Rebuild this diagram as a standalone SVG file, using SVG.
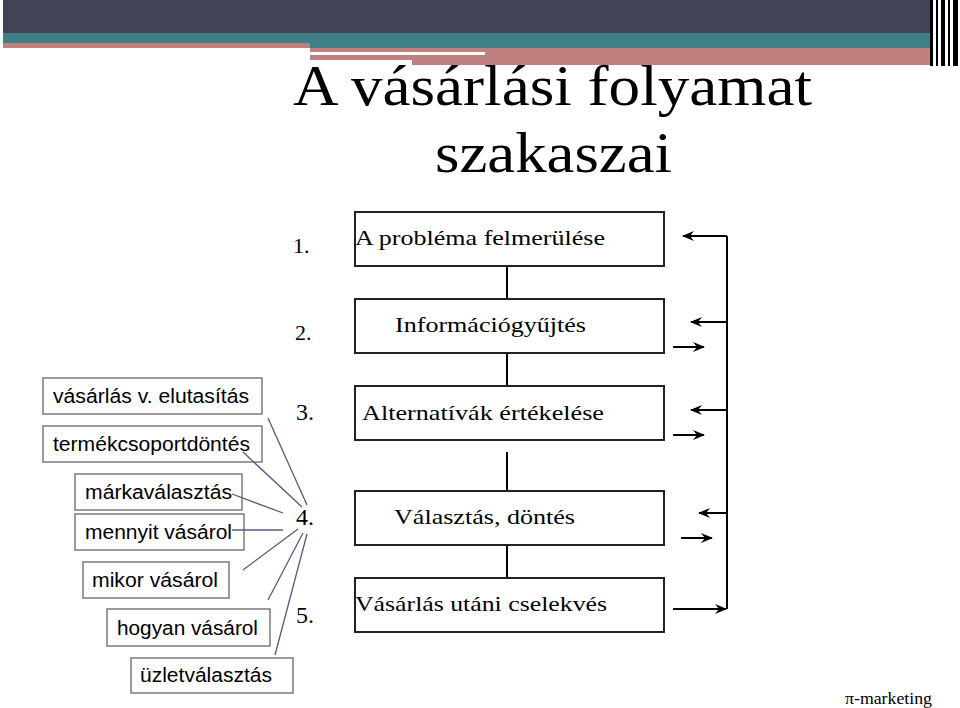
<svg xmlns="http://www.w3.org/2000/svg" width="960" height="708" viewBox="0 0 960 708">
<style>
.s{font-family:"Liberation Serif",serif;fill:#000}
.a{font-family:"Liberation Sans",sans-serif;font-size:20px;fill:#000}
.mb{fill:#fff;stroke:#222;stroke-width:2}
.lb{fill:none;stroke:#666;stroke-width:1.3}
.ln{stroke:#555a7a;stroke-width:1.3;fill:none}
.ar{stroke:#000;stroke-width:2;fill:none}
</style>
<defs><marker id="h" markerWidth="12" markerHeight="10" refX="11" refY="5" orient="auto" markerUnits="userSpaceOnUse"><path d="M0,0 L12,5 L0,10 L4,5 Z" fill="#000"/></marker></defs>
<rect width="960" height="708" fill="#fff"/>
<g id="banner">
<rect x="3" y="0" width="927" height="33" fill="#414456"/>
<rect x="3" y="33" width="927" height="10" fill="#3f7f86"/>
<rect x="3" y="43" width="307" height="5" fill="#c08080"/>
<rect x="310" y="43" width="620" height="5" fill="#3f7f86"/>
<rect x="310" y="48" width="620" height="12" fill="#c08080"/>
<rect x="310" y="52" width="175" height="3" fill="#fff"/>
<rect x="412" y="60" width="518" height="5" fill="#c08080"/>
<rect x="930" y="0" width="30" height="66" fill="#fff"/>
<rect x="930" y="0" width="3" height="66" fill="#000"/>
<rect x="936" y="0" width="2" height="66" fill="#000"/>
<rect x="941" y="0" width="4" height="66" fill="#000"/>
<rect x="948" y="0" width="2" height="66" fill="#000"/>
<rect x="953" y="0" width="5" height="66" fill="#000"/>
</g>
<g id="title">
<text class="s" x="293" y="105" font-size="58" textLength="519" lengthAdjust="spacingAndGlyphs">A vásárlási folyamat</text>
<text class="s" x="435" y="172" font-size="58" textLength="237" lengthAdjust="spacingAndGlyphs">szakaszai</text>
</g>
<g id="connectors">
<line class="ar" x1="507" y1="266" x2="507" y2="299"/>
<line class="ar" x1="507" y1="353" x2="507" y2="386"/>
<line class="ar" x1="507" y1="452" x2="507" y2="491"/>
<line class="ar" x1="507" y1="545" x2="507" y2="578"/>
<line class="ar" x1="727" y1="236" x2="727" y2="609"/>
<line class="ar" x1="727" y1="236" x2="683" y2="236" marker-end="url(#h)"/>
<line class="ar" x1="727" y1="322" x2="691" y2="322" marker-end="url(#h)"/>
<line class="ar" x1="727" y1="410" x2="691" y2="410" marker-end="url(#h)"/>
<line class="ar" x1="727" y1="513" x2="699" y2="513" marker-end="url(#h)"/>
<line class="ar" x1="673" y1="347" x2="704" y2="347" marker-end="url(#h)"/>
<line class="ar" x1="673" y1="435" x2="704" y2="435" marker-end="url(#h)"/>
<line class="ar" x1="681" y1="538" x2="712" y2="538" marker-end="url(#h)"/>
<line class="ar" x1="673" y1="609" x2="726" y2="609" marker-end="url(#h)"/>
</g>
<g id="n1"><rect class="mb" x="355" y="212" width="309" height="54"/><text class="s" x="293" y="253" font-size="22">1.</text><text class="s" x="355" y="245" font-size="22" textLength="250" lengthAdjust="spacingAndGlyphs">A probléma felmerülése</text></g>
<g id="n2"><rect class="mb" x="355" y="299" width="309" height="54"/><text class="s" x="295" y="340" font-size="22">2.</text><text class="s" x="395" y="332" font-size="22" textLength="191" lengthAdjust="spacingAndGlyphs">Információgyűjtés</text></g>
<g id="n3"><rect class="mb" x="355" y="386" width="309" height="54"/><text class="s" x="296" y="420" font-size="24">3.</text><text class="s" x="362" y="420" font-size="22" textLength="242" lengthAdjust="spacingAndGlyphs">Alternatívák értékelése</text></g>
<g id="n4"><rect class="mb" x="355" y="491" width="309" height="54"/><text class="s" x="296" y="525" font-size="24">4.</text><text class="s" x="394" y="524" font-size="22" textLength="181" lengthAdjust="spacingAndGlyphs">Választás, döntés</text></g>
<g id="n5"><rect class="mb" x="355" y="578" width="309" height="54"/><text class="s" x="296" y="623" font-size="24">5.</text><text class="s" x="355" y="611" font-size="22" textLength="252" lengthAdjust="spacingAndGlyphs">Vásárlás utáni cselekvés</text></g>
<g id="side-lines">
<line class="ln" x1="268" y1="418" x2="307" y2="505"/>
<line class="ln" x1="243" y1="452" x2="302" y2="507"/>
<line class="ln" x1="232" y1="494" x2="283" y2="513"/>
<line class="ln" x1="232" y1="530" x2="283" y2="530"/>
<line class="ln" x1="243" y1="570" x2="298" y2="529"/>
<line class="ln" x1="268" y1="600" x2="303" y2="533"/>
<line class="ln" x1="275" y1="655" x2="307" y2="534"/>
</g>
<g id="b1"><rect class="lb" x="43" y="378" width="219" height="36"/><text class="a" x="53" y="403" textLength="196" lengthAdjust="spacingAndGlyphs">vásárlás v. elutasítás</text></g>
<g id="b2"><rect class="lb" x="43" y="426" width="219" height="36"/><text class="a" x="53" y="451" textLength="197" lengthAdjust="spacingAndGlyphs">termékcsoportdöntés</text></g>
<g id="b3"><rect class="lb" x="75" y="474" width="167" height="36"/><text class="a" x="85" y="499" textLength="147" lengthAdjust="spacingAndGlyphs">márkaválasztás</text></g>
<g id="b4"><rect class="lb" x="75" y="514" width="169" height="36"/><text class="a" x="85" y="539" textLength="147" lengthAdjust="spacingAndGlyphs">mennyit vásárol</text></g>
<g id="b5"><rect class="lb" x="83" y="562" width="146" height="36"/><text class="a" x="92" y="587" textLength="126" lengthAdjust="spacingAndGlyphs">mikor vásárol</text></g>
<g id="b6"><rect class="lb" x="107" y="609" width="163" height="37"/><text class="a" x="117" y="635" textLength="141" lengthAdjust="spacingAndGlyphs">hogyan vásárol</text></g>
<g id="b7"><rect class="lb" x="131" y="658" width="162" height="35"/><text class="a" x="140" y="682" textLength="132" lengthAdjust="spacingAndGlyphs">üzletválasztás</text></g>
<text class="s" x="845" y="704" font-size="16" textLength="87" lengthAdjust="spacingAndGlyphs">π-marketing</text>
</svg>
